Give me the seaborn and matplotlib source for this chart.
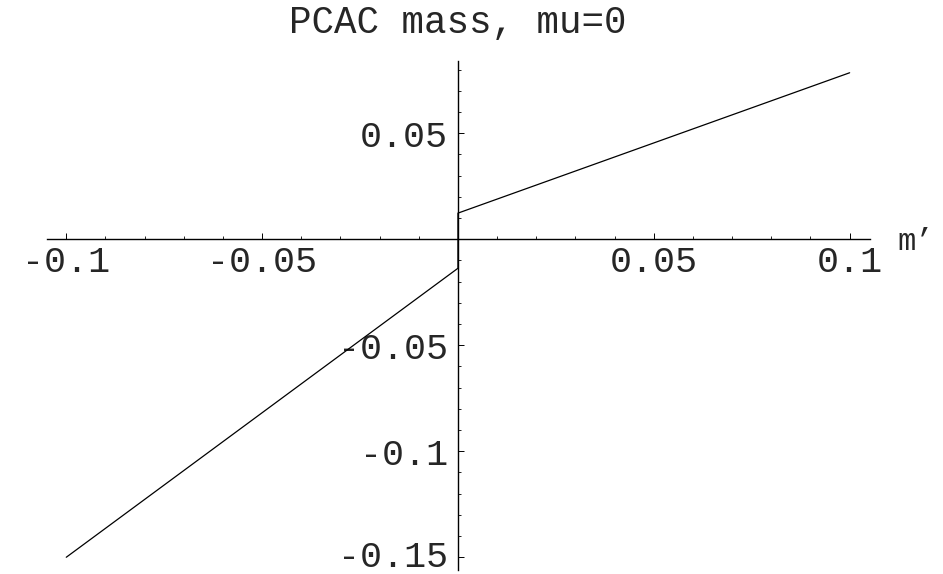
import matplotlib
matplotlib.use("Agg")
import matplotlib.pyplot as plt
import matplotlib.ticker as mticker
import matplotlib.transforms as mtransforms
import seaborn as sns

# PCAC mass vs m' (mu = 0)
m_prime = [-0.1, 0.0, 0.0, 0.1]
pcac_mass = [-0.15, -0.0137, 0.0123, 0.0785]

x_major = [-0.1, -0.05, 0.05, 0.1]
x_labels = ["-0.1", "-0.05", "0.05", "0.1"]
y_major = [-0.15, -0.1, -0.05, 0.05]
y_labels = ["-0.15", "-0.1", "-0.05", "0.05"]

sns.set_style("white")
plt.rcParams["font.family"] = ["Liberation Mono", "DejaVu Sans Mono"]

fig = plt.figure(figsize=(9.43, 5.74), dpi=100)
ax = fig.add_axes([0.0495, 0.007, 0.8731, 0.8873])

sns.lineplot(x=m_prime, y=pcac_mass, sort=False, estimator=None,
             color="black", linewidth=0.9, ax=ax)

ax.set_xlim(-0.105, 0.1052)
ax.set_ylim(-0.156, 0.0842)

# Mathematica style axes crossing at the origin
for side in ("top", "right"):
    ax.spines[side].set_visible(False)
ax.spines["left"].set_position(("data", 0))
ax.spines["bottom"].set_position(("data", 0))
for side in ("left", "bottom"):
    ax.spines[side].set_linewidth(1.0)
    ax.spines[side].set_color("black")

ax.xaxis.set_major_locator(mticker.FixedLocator(x_major))
ax.xaxis.set_major_formatter(mticker.FixedFormatter(x_labels))
ax.yaxis.set_major_locator(mticker.FixedLocator(y_major))
ax.yaxis.set_major_formatter(mticker.FixedFormatter(y_labels))

x_minor = [v / 100 for v in range(-10, 11) if v % 5 != 0]
y_minor = [v / 100 for v in range(-15, 9) if v % 5 != 0]
ax.xaxis.set_minor_locator(mticker.FixedLocator(x_minor))
ax.yaxis.set_minor_locator(mticker.FixedLocator(y_minor))

ax.tick_params(axis="both", which="both", bottom=True, left=True,
               top=False, right=False, direction="in", color="black")
ax.tick_params(axis="both", which="major", length=4.5, width=0.7,
               labelsize=26.5)
ax.tick_params(axis="both", which="minor", length=2.5, width=0.6)
ax.tick_params(axis="x", which="major", pad=4)
ax.tick_params(axis="y", which="major", pad=7)

fig.canvas.draw()
for lab in ax.get_xticklabels() + ax.get_yticklabels():
    lab.set_zorder(1)
    if lab.get_text() == "-0.15":
        # nudge the lowest label up so it stays inside the canvas
        lab.set_transform(lab.get_transform() + mtransforms.ScaledTranslation(
            0, 0.035, fig.dpi_scale_trans))

ax.annotate("m\u2019", xy=(1, 0), xycoords=("axes fraction", "data"),
            xytext=(20, -8), textcoords="offset points",
            ha="left", va="baseline", fontsize=22)

fig.text(0.4857, 1 - 33 / 574, "PCAC mass, mu=0", ha="center",
         va="baseline", fontsize=27)

fig.savefig("out.png", dpi=100)
